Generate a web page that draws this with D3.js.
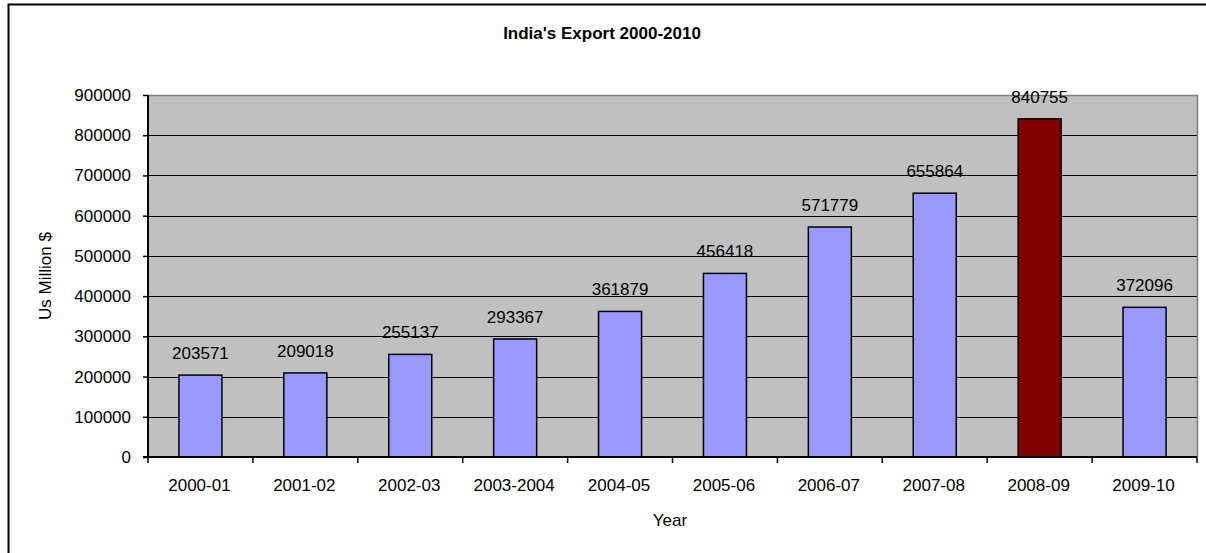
<!DOCTYPE html>
<html>
<head>
<meta charset="utf-8">
<script src="https://cdn.jsdelivr.net/npm/d3@7"></script>
<style>
body{margin:0;background:#fff;}
text{font-family:Arial,"Liberation Sans",sans-serif;fill:#000;}
</style>
</head>
<body>
<svg class="barChart" width="1206" height="553"></svg>
<script>
var years = ['2000-01','2001-02','2002-03','2003-2004','2004-05','2005-06','2006-07','2007-08','2008-09','2009-10'];
var exports = [203571,209018,255137,293367,361879,456418,571779,655864,840755,372096];
var yTicks = [0,100000,200000,300000,400000,500000,600000,700000,800000,900000];
var highlight = '2008-09';

var config = {
	left:148, right:1197, top:95, bottom:457,
	barColor:'#9999FF', hiColor:'#800000', plotBg:'#C0C0C0',
	fontSize:'17px'
};

var svg = d3.select('.barChart');

// outer frame
svg.append('rect')
	.attr('x',8.5).attr('y',4.5)
	.attr('width',1220).attr('height',600)
	.attr('fill','none').attr('stroke','#000').attr('stroke-width',2);

var xScale = d3.scaleBand()
	.domain(years)
	.range([config.left,config.right]);

var yScale = d3.scaleLinear()
	.domain([0,900000])
	.range([config.bottom,config.top]);

// plot area
svg.append('rect')
	.attr('x',config.left).attr('y',config.top)
	.attr('width',config.right-config.left).attr('height',config.bottom-config.top)
	.attr('fill',config.plotBg);

// gridlines
svg.append('g').selectAll('line')
	.data(yTicks.slice(1,-1))
	.enter().append('line')
	.attr('x1',config.left).attr('x2',config.right)
	.attr('y1',d=>Math.round(yScale(d))+0.5).attr('y2',d=>Math.round(yScale(d))+0.5)
	.attr('stroke','#000');

// top/right border gray
svg.append('path')
	.attr('d','M'+config.left+','+(config.top+0.5)+'H'+(config.right+0.5)+'V'+config.bottom)
	.attr('fill','none').attr('stroke','#808080').attr('stroke-width',1.5);

// bars
var bw = xScale.bandwidth()*0.41;
svg.append('g').selectAll('rect')
	.data(years)
	.enter().append('rect')
	.attr('x',d=>xScale(d)+xScale.bandwidth()/2-bw/2)
	.attr('width',bw)
	.attr('y',(d,i)=>yScale(exports[i]))
	.attr('height',(d,i)=>yScale(0)-yScale(exports[i]))
	.attr('fill',d=>d===highlight?config.hiColor:config.barColor)
	.attr('stroke','#000').attr('stroke-width',1.5);

// value labels
svg.append('g').selectAll('text')
	.data(years)
	.enter().append('text')
	.text((d,i)=>exports[i])
	.attr('x',d=>xScale(d)+xScale.bandwidth()/2)
	.attr('y',(d,i)=>yScale(exports[i])-16)
	.attr('text-anchor','middle')
	.style('font-size',config.fontSize);

// y axis
var yAxis = svg.append('g')
	.attr('transform','translate('+config.left+',0)')
	.call(d3.axisLeft(yScale).tickValues(yTicks).tickSize(5).tickPadding(12).tickFormat(d3.format('d')));
yAxis.select('.domain').attr('stroke','#000').attr('stroke-width',2).attr('d','M0,'+config.top+'V'+config.bottom);
yAxis.selectAll('.tick line').attr('stroke-width',1.5);
yAxis.selectAll('text').style('font-size',config.fontSize).style('font-family','Arial,"Liberation Sans",sans-serif');

// x axis
var xAxis = svg.append('g')
	.attr('transform','translate(0,'+config.bottom+')');
xAxis.append('line')
	.attr('x1',config.left-5).attr('x2',config.right)
	.attr('stroke','#000').attr('stroke-width',2);
xAxis.selectAll('.xtick')
	.data(years.concat(['end']))
	.enter().append('line')
	.attr('x1',(d,i)=>i<years.length?xScale(d):config.right)
	.attr('x2',(d,i)=>i<years.length?xScale(d):config.right)
	.attr('y1',0).attr('y2',6)
	.attr('stroke','#000').attr('stroke-width',1.5);
xAxis.selectAll('.xlabel')
	.data(years)
	.enter().append('text')
	.text(d=>d)
	.attr('x',d=>xScale(d)+xScale.bandwidth()/2-1)
	.attr('y',34)
	.attr('text-anchor','middle')
	.style('font-size',config.fontSize);

// titles
svg.append('text')
	.text("India's Export 2000-2010")
	.attr('x',602).attr('y',39)
	.attr('text-anchor','middle')
	.style('font-size','17px').style('font-weight','bold');

svg.append('text')
	.text('Year')
	.attr('x',670).attr('y',526)
	.attr('text-anchor','middle')
	.style('font-size',config.fontSize);

svg.append('text')
	.text('Us Million $')
	.attr('transform','translate(51,276) rotate(-90)')
	.attr('text-anchor','middle')
	.style('font-size',config.fontSize);
</script>
</body>
</html>
